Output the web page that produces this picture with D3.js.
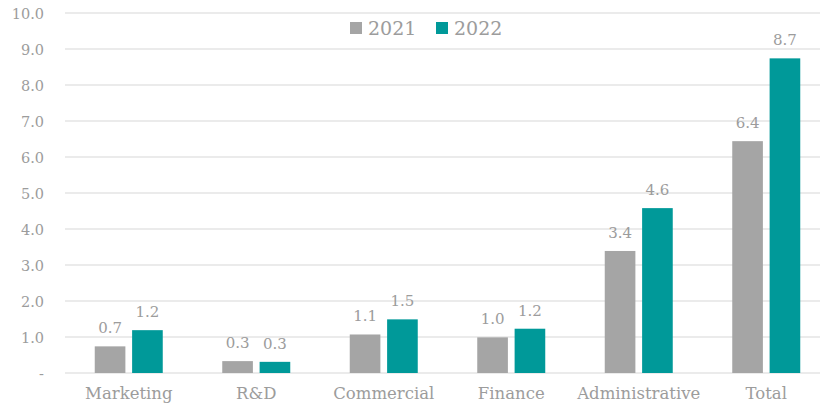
<!DOCTYPE html>
<html>
<head>
<meta charset="utf-8">
<script src="https://cdn.jsdelivr.net/npm/d3@7"></script>
<style>
  html, body { margin: 0; padding: 0; background: #ffffff; }
  svg { display: block; }
  text { font-family: "DejaVu Serif", "Liberation Serif", serif; fill: #9c9c9c; }
</style>
</head>
<body>
<svg id="chart" width="821" height="406"></svg>
<script>
// Cost categories and yearly values
const categories = ["Marketing", "R&D", "Commercial", "Finance", "Administrative", "Total"];
const years = ["2021", "2022"];
const values2021 = [0.74, 0.33, 1.07, 0.99, 3.39, 6.44];
const values2022 = [1.19, 0.31, 1.49, 1.23, 4.58, 8.74];
const yTicks = [0, 1, 2, 3, 4, 5, 6, 7, 8, 9, 10];
const colors = ["#a5a5a5", "#009999"];

const svg = d3.select("#chart");
const plotLeft = 65, plotRight = 830, plotTop = 13, plotBottom = 373;

const x = d3.scaleBand().domain(categories).range([plotLeft, plotRight]).paddingInner(0).paddingOuter(0);
const xs = d3.scaleBand().domain(years).range([x.bandwidth() / 2 - 34, x.bandwidth() / 2 + 34]).paddingInner(0.18);
const y = d3.scaleLinear().domain([0, 10]).range([plotBottom, plotTop]);

// Horizontal gridlines
svg.append("g")
  .selectAll("line")
  .data(yTicks)
  .join("line")
  .attr("x1", plotLeft)
  .attr("x2", 820)
  .attr("y1", d => y(d))
  .attr("y2", d => y(d))
  .attr("stroke", "#e4e4e4")
  .attr("stroke-width", 1.5);

// Y axis labels
const yAxis = d3.axisLeft(y)
  .tickValues(yTicks)
  .tickSize(0)
  .tickPadding(0)
  .tickFormat(d => d === 0 ? "-" : d3.format(".1f")(d));
const yg = svg.append("g").attr("transform", "translate(44,0)").call(yAxis);
yg.select(".domain").remove();
yg.selectAll("text")
  .style("font-size", "14.5px")
  .attr("fill", "#9c9c9c")
  .attr("dy", "0.4em");

// X axis labels
const xAxis = d3.axisBottom(x).tickSize(0).tickPadding(0);
const xg = svg.append("g").attr("transform", `translate(0,${plotBottom + 14})`).call(xAxis);
xg.select(".domain").remove();
xg.selectAll("text")
  .style("font-size", "16.5px")
  .attr("fill", "#9c9c9c")
  .attr("dy", "0.72em");

// Bars grouped by category
const rows = categories.map((c, i) => ({
  cat: c,
  vals: [{ year: years[0], v: values2021[i] }, { year: years[1], v: values2022[i] }]
}));

const groups = svg.append("g")
  .selectAll("g")
  .data(rows)
  .join("g")
  .attr("transform", d => `translate(${x(d.cat)},0)`);

groups.selectAll("rect")
  .data(d => d.vals)
  .join("rect")
  .attr("x", d => xs(d.year))
  .attr("width", xs.bandwidth())
  .attr("y", d => y(d.v))
  .attr("height", d => y(0) - y(d.v))
  .attr("fill", (d, i) => colors[i]);

groups.selectAll("text.val")
  .data(d => d.vals)
  .join("text")
  .attr("class", "val")
  .attr("x", d => xs(d.year) + xs.bandwidth() / 2)
  .attr("y", d => y(d.v) - 13)
  .attr("text-anchor", "middle")
  .style("font-size", "15px")
  .text(d => d3.format(".1f")(d.v));

// Legend
const legend = svg.append("g");
const legendItems = [
  { label: years[0], color: colors[0], x: 350 },
  { label: years[1], color: colors[1], x: 436 }
];
legendItems.forEach(it => {
  legend.append("rect")
    .attr("x", it.x).attr("y", 22)
    .attr("width", 12).attr("height", 12)
    .attr("fill", it.color);
  legend.append("text")
    .attr("x", it.x + 18).attr("y", 35)
    .style("font-size", "19px")
    .text(it.label);
});
</script>
</body>
</html>
